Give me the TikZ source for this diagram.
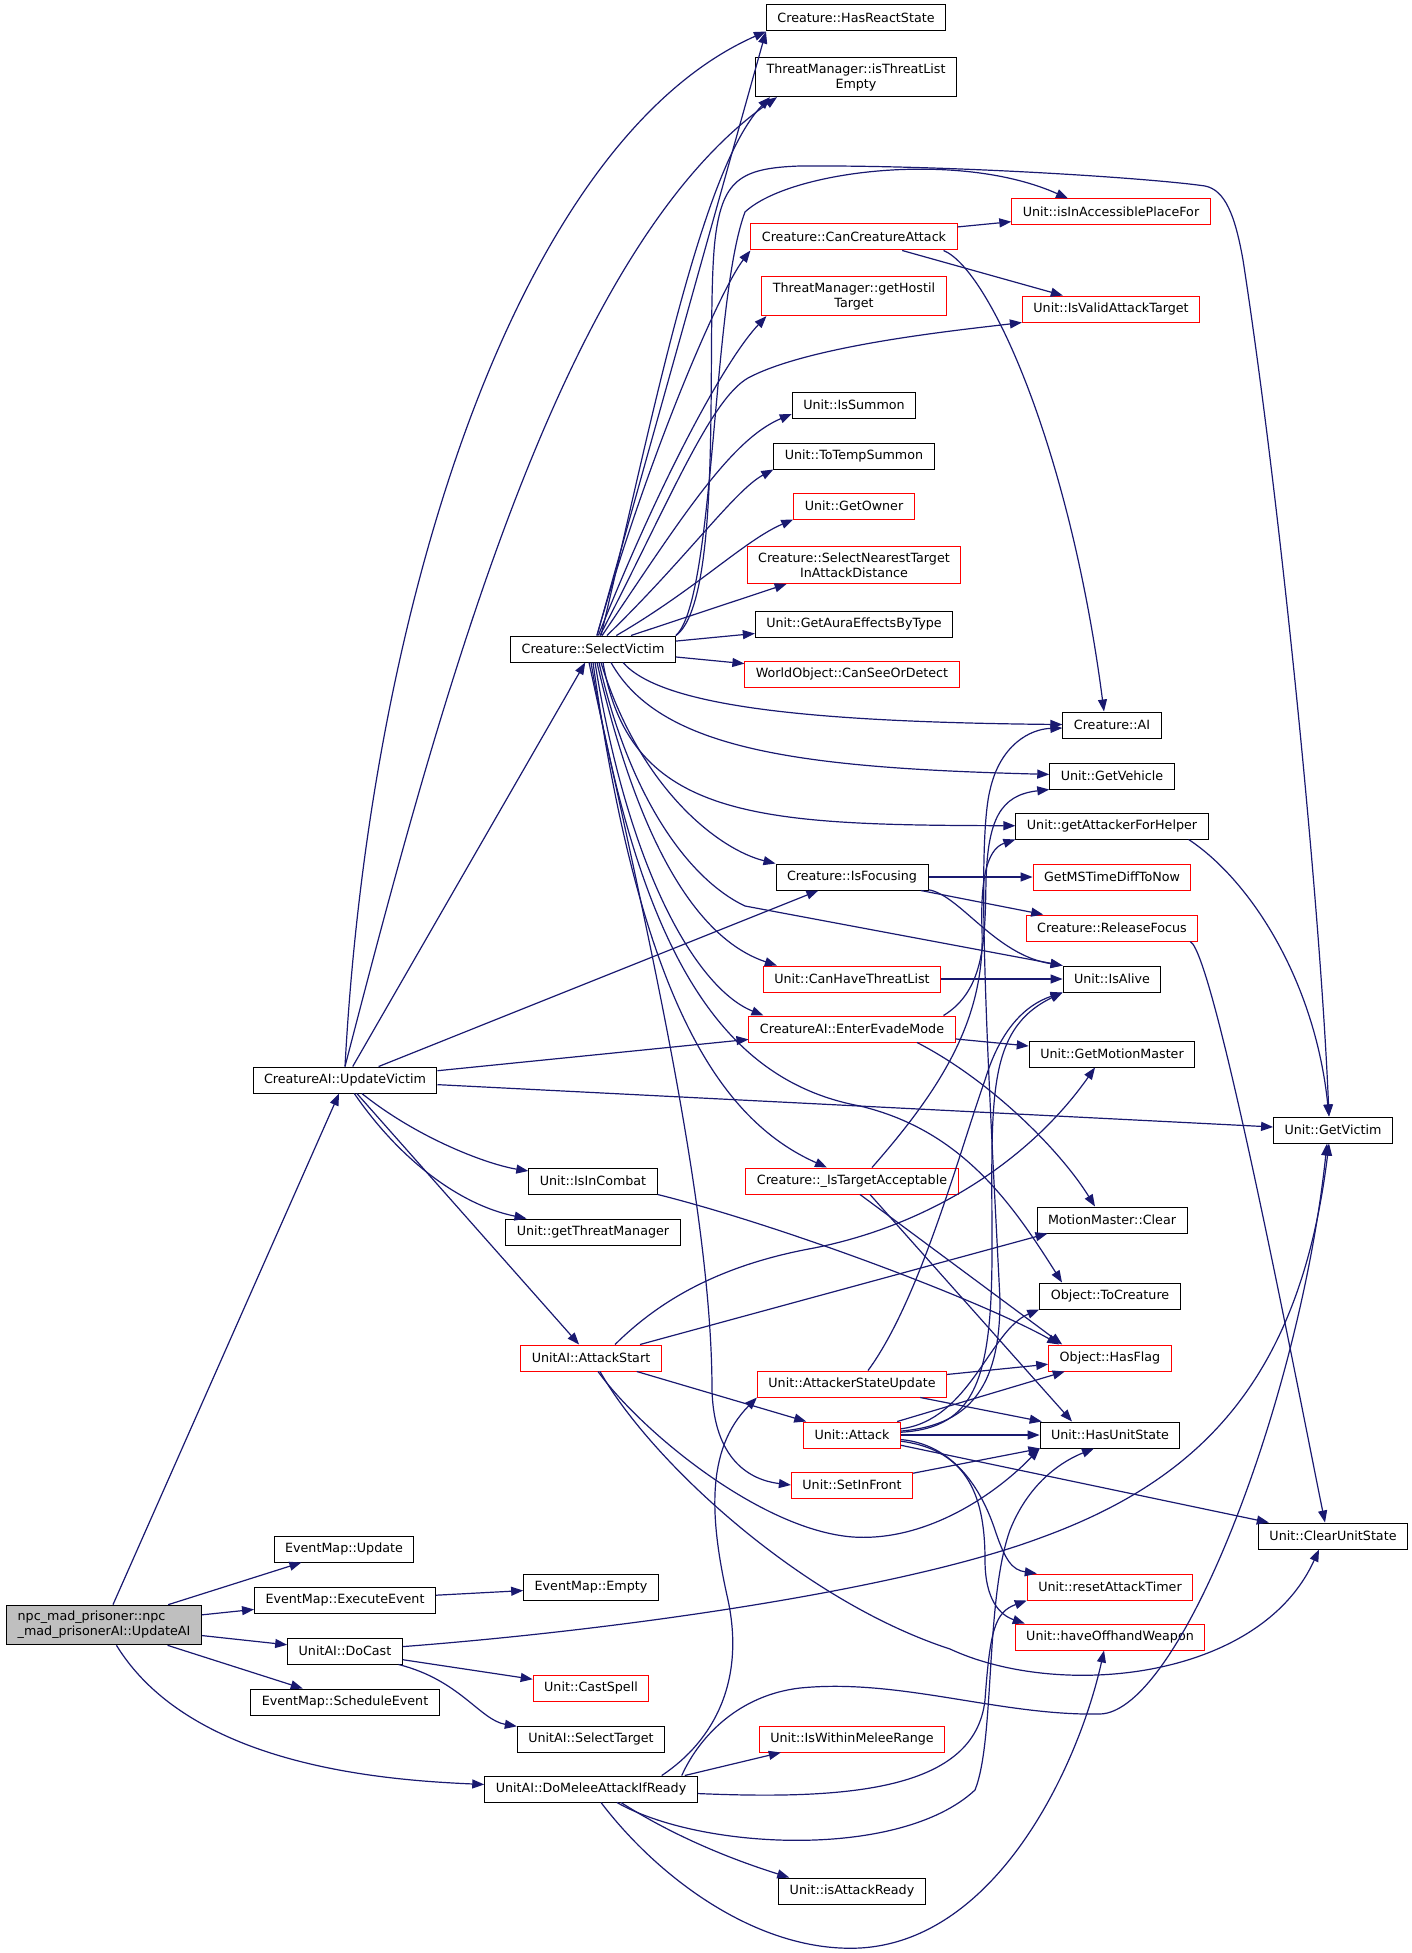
\documentclass[tikz,border=0pt]{standalone}
\usepackage{fontspec}
\setmainfont{DejaVu Sans}
\usepackage{xcolor}
\usetikzlibrary{arrows.meta}
\definecolor{azulnoite}{HTML}{191970}
\definecolor{cinzaraiz}{HTML}{BFBFBF}
\begin{document}
\begin{tikzpicture}[
    x=1pt, y=-1pt,
    every node/.style={draw, rectangle, inner xsep=11pt, inner ysep=6pt, minimum height=26pt,
      align=center, line width=1pt, font=\fontsize{12.7}{15}\selectfont},
    chamada/.style={draw=azulnoite, line width=1.2pt, -{Triangle[length=12pt,width=9pt]}}
  ]
  \tikzset{
    caixa/.style={draw=black},
    vermelha/.style={draw=red},
    raiz/.style={draw=black, fill=cinzaraiz, align=left}
  }
  \useasboundingbox (0,0) rectangle (1411,1953);

  \node[raiz] (raiz) at (104,1625) {npc\_mad\_prisoner::npc\\\_mad\_prisonerAI::UpdateAI};

  \node[caixa] (uv) at (345,1080) {CreatureAI::UpdateVictim};
  \node[caixa] (emu) at (344,1549) {EventMap::Update};
  \node[caixa] (eme) at (345,1600) {EventMap::ExecuteEvent};
  \node[caixa] (dc) at (345,1651) {UnitAI::DoCast};
  \node[caixa] (ems) at (345,1702) {EventMap::ScheduleEvent};

  \node[caixa] (sv) at (593,649) {Creature::SelectVictim};
  \node[caixa] (ic) at (593,1181) {Unit::IsInCombat};
  \node[caixa] (gtm) at (593,1232) {Unit::getThreatManager};
  \node[vermelha] (as) at (591,1358) {UnitAI::AttackStart};
  \node[caixa] (emempty) at (591,1587) {EventMap::Empty};
  \node[vermelha] (cs) at (591,1688) {Unit::CastSpell};
  \node[caixa] (st) at (591,1739) {UnitAI::SelectTarget};
  \node[caixa] (dm) at (591,1789) {UnitAI::DoMeleeAttackIfReady};

  \node[caixa] (hrs) at (856,18) {Creature::HasReactState};
  \node[caixa] (itle) at (856,77) {ThreatManager::isThreatList\\Empty};
  \node[vermelha] (cca) at (854,237) {Creature::CanCreatureAttack};
  \node[vermelha] (ght) at (854,296) {ThreatManager::getHostil\\Target};
  \node[caixa] (isum) at (854,405) {Unit::IsSummon};
  \node[caixa] (tts) at (854,456) {Unit::ToTempSummon};
  \node[vermelha] (go) at (854,506) {Unit::GetOwner};
  \node[vermelha] (snt) at (854,565) {Creature::SelectNearestTarget\\InAttackDistance};
  \node[caixa] (gae) at (854,624) {Unit::GetAuraEffectsByType};
  \node[vermelha] (csd) at (852,674) {WorldObject::CanSeeOrDetect};
  \node[caixa] (isf) at (852,877) {Creature::IsFocusing};
  \node[vermelha] (chtl) at (852,979) {Unit::CanHaveThreatList};
  \node[vermelha] (eem) at (852,1029) {CreatureAI::EnterEvadeMode};
  \node[vermelha] (ita) at (852,1181) {Creature::\_IsTargetAcceptable};
  \node[vermelha] (asu) at (852,1384) {Unit::AttackerStateUpdate};
  \node[vermelha] (att) at (852,1435) {Unit::Attack};
  \node[vermelha] (sif) at (852,1485) {Unit::SetInFront};
  \node[vermelha] (iwmr) at (852,1739) {Unit::IsWithinMeleeRange};
  \node[caixa] (iar) at (852,1891) {Unit::isAttackReady};

  \node[vermelha] (iap) at (1111,212) {Unit::isInAccessiblePlaceFor};
  \node[vermelha] (ivat) at (1111,309) {Unit::IsValidAttackTarget};
  \node[caixa] (cai) at (1112,725) {Creature::AI};
  \node[caixa] (gveh) at (1112,776) {Unit::GetVehicle};
  \node[caixa] (gafh) at (1112,826) {Unit::getAttackerForHelper};
  \node[vermelha] (gms) at (1112,877) {GetMSTimeDiffToNow};
  \node[vermelha] (rf) at (1112,928) {Creature::ReleaseFocus};
  \node[caixa] (ia) at (1112,979) {Unit::IsAlive};
  \node[caixa] (gmm) at (1112,1054) {Unit::GetMotionMaster};
  \node[caixa] (mmc) at (1112,1220) {MotionMaster::Clear};
  \node[caixa] (tc) at (1110,1296) {Object::ToCreature};
  \node[vermelha] (hf) at (1110,1358) {Object::HasFlag};
  \node[caixa] (hus) at (1110,1435) {Unit::HasUnitState};
  \node[vermelha] (rat) at (1110,1587) {Unit::resetAttackTimer};
  \node[vermelha] (how) at (1110,1637) {Unit::haveOffhandWeapon};

  \node[caixa] (gv) at (1333,1130) {Unit::GetVictim};
  \node[caixa] (cus) at (1333,1536) {Unit::ClearUnitState};

  \draw[chamada] (raiz) -- (uv);
  \draw[chamada] (raiz) -- (emu);
  \draw[chamada] (raiz) -- (eme);
  \draw[chamada] (raiz) -- (dc);
  \draw[chamada] (raiz) -- (ems);
  \draw[chamada] (raiz) .. controls (190,1765) and (380,1780) .. (dm);

  \draw[chamada] (uv.north) .. controls (370,600) and (520,140) .. (hrs.south west);
  \draw[chamada] (uv.north) .. controls (440,700) and (560,250) .. ([xshift=22pt]itle.south west);
  \draw[chamada] (uv) -- (sv);
  \draw[chamada] (uv) -- (isf);
  \draw[chamada] (uv) -- (eem);
  \draw[chamada] (uv) -- (gv);
  \draw[chamada] (uv) .. controls (420,1140) and (490,1165) .. (ic);
  \draw[chamada] (uv) .. controls (400,1160) and (460,1205) .. (gtm);
  \draw[chamada] (uv) -- (as);

  \draw[chamada] (dc) -- (cs);
  \draw[chamada] (dc) .. controls (460,1680) and (480,1720) .. (st);
  \draw[chamada] (dc) .. controls (620,1630) and (900,1590) .. (1040,1538) .. controls (1200,1480) and (1300,1380) .. ([xshift=-4pt]gv.south);

  \draw[chamada] (eme) -- (emempty);

  \draw[chamada] ([xshift=-36pt]dm.north east) .. controls (715,1740) and (745,1680) .. (728,1600) .. controls (710,1520) and (705,1450) .. (asu.south west);
  \draw[chamada] ([xshift=-13pt]dm.north east) -- ([xshift=22pt]iwmr.south west);
  \draw[chamada] ([xshift=-16pt]dm.north east) .. controls (700,1735) and (740,1695) .. (800,1688) .. controls (900,1678) and (1000,1716) .. (1100,1714) .. controls (1180,1712) and (1300,1400) .. ([xshift=-6pt]gv.south);
  \draw[chamada] (dm) .. controls (850,1800) and (975,1790) .. (985,1700) .. controls (990,1630) and (995,1612) .. (rat.south west);
  \draw[chamada] ([xshift=26pt]dm.south) .. controls (700,1850) and (900,1860) .. (975,1790) .. controls (995,1740) and (985,1600) .. (1010,1530) .. controls (1030,1480) and (1065,1460) .. ([xshift=-16pt]hus.south);
  \draw[chamada] ([xshift=30pt]dm.south) .. controls (680,1840) and (740,1862) .. ([xshift=11pt]iar.north west);
  \draw[chamada] ([xshift=10pt]dm.south) .. controls (660,1880) and (760,1953) .. (860,1948) .. controls (1000,1940) and (1080,1760) .. ([xshift=-6pt]how.south);

  \draw[chamada] (as) -- (att);
  \draw[chamada] ([xshift=24pt]as.north) .. controls (660,1300) and (720,1265) .. (814,1248) .. controls (930,1225) and (1030,1160) .. ([xshift=-17pt]gmm.south);
  \draw[chamada] ([xshift=49pt]as.north) -- ([xshift=11pt]mmc.south west);
  \draw[chamada] ([xshift=7pt]as.south) .. controls (640,1430) and (760,1530) .. (853,1537) .. controls (930,1542) and (1000,1490) .. (hus.south west);
  \draw[chamada] ([xshift=9pt]as.south) .. controls (650,1460) and (800,1600) .. (950,1649) .. controls (1060,1700) and (1260,1680) .. ([xshift=-14pt]cus.south);

  \draw[chamada] (att) -- (hus);
  \draw[chamada] (att) -- (hf);
  \draw[chamada] (att) .. controls (970,1420) and (990,1330) .. (tc.south west);
  \draw[chamada] (att) -- (cus);
  \draw[chamada] (att) .. controls (960,1445) and (985,1500) .. (995,1530) .. controls (1005,1560) and (1012,1570) .. ([xshift=10pt]rat.north west);
  \draw[chamada] (att) .. controls (970,1450) and (985,1500) .. (985,1560) .. controls (985,1600) and (1000,1615) .. ([xshift=10pt]how.north west);
  \draw[chamada] (att) .. controls (975,1425) and (1000,1380) .. (1000,1300) .. controls (990,1100) and (975,850) .. (990,790) .. controls (1000,745) and (1030,729) .. ([yshift=-3pt]cai.west);
  \draw[chamada] (att) .. controls (975,1428) and (992,1380) .. (992,1250) .. controls (992,1100) and (985,1030) .. (ia.south west);

  \draw[chamada] (asu) -- (hf);
  \draw[chamada] (asu) -- (hus);
  \draw[chamada] ([xshift=16pt]asu.north) .. controls (920,1300) and (960,1150) .. (985,1080) .. controls (1000,1030) and (1025,1005) .. (ia.south west);

  \draw[chamada] ([xshift=20pt]ita.north) .. controls (940,1090) and (985,1020) .. (982,930) .. controls (980,870) and (990,848) .. (gafh.south west);
  \draw[chamada] ([xshift=8pt]ita.south) -- ([xshift=14pt]hf.north west);
  \draw[chamada] ([xshift=18pt]ita.south) -- ([xshift=-38pt]hus.north);

  \draw[chamada] (ic.south east) .. controls (780,1225) and (980,1300) .. ([xshift=11pt]hf.north west);

  \draw[chamada] ([xshift=-12pt]eem.north east) .. controls (985,990) and (985,940) .. (986,880) .. controls (988,820) and (1000,795) .. (gveh.south west);
  \draw[chamada] (eem) -- (gmm);
  \draw[chamada] ([xshift=65pt]eem.south) .. controls (990,1080) and (1060,1150) .. ([xshift=-17pt]mmc.north);

  \draw[chamada] (isf) -- (gms);
  \draw[chamada] (isf) -- (rf);
  \draw[chamada] (isf) .. controls (960,895) and (995,955) .. (ia.north west);

  \draw[chamada] (chtl) -- (ia);

  \draw[chamada] ([xshift=-20pt]gafh.south east) .. controls (1250,880) and (1315,980) .. ([xshift=-4pt]gv.north);

  \draw[chamada] ([xshift=-8pt]rf.south east) .. controls (1215,955) and (1300,1400) .. ([xshift=-8pt]cus.north);

  \draw[chamada] (cca) -- (iap);
  \draw[chamada] (cca) -- (ivat);
  \draw[chamada] ([xshift=-14pt]cca.south east) .. controls (990,270) and (1070,450) .. ([xshift=-8pt]cai.north);

  \draw[chamada] (sif) -- (hus);

  \draw[chamada] ([xshift=4pt]sv.north) -- (hrs.south west);
  \draw[chamada] ([xshift=8pt]sv.north) .. controls (650,430) and (700,170) .. ([xshift=15pt]itle.south west);
  \draw[chamada] (sv.north east) .. controls (715,600) and (712,300) .. (745,212) .. controls (790,170) and (960,150) .. ([xshift=-43pt]iap.north);
  \draw[chamada] (sv.north east) .. controls (725,600) and (705,330) .. (715,240) .. controls (722,180) and (740,168) .. (800,166) .. controls (950,165) and (1150,178) .. (1205,186) .. controls (1225,190) and (1235,215) .. (1243,260) .. controls (1280,500) and (1320,900) .. ([xshift=-4pt]gv.north);
  \draw[chamada] (sv) .. controls (650,450) and (720,290) .. (cca.south west);
  \draw[chamada] (sv) .. controls (660,480) and (725,360) .. ([xshift=5pt]ght.south west);
  \draw[chamada] (sv) .. controls (670,500) and (710,400) .. (748,378) .. controls (810,345) and (960,330) .. (ivat.south west);
  \draw[chamada] (sv) .. controls (680,520) and (730,440) .. ([yshift=-9pt]isum.west);
  \draw[chamada] (sv) .. controls (685,560) and (735,490) .. (tts.south west);
  \draw[chamada] (sv) .. controls (695,590) and (745,540) .. (go.south west);
  \draw[chamada] ([xshift=38pt]sv.north) -- ([xshift=40pt]snt.south west);
  \draw[chamada] (sv) -- (gae);
  \draw[chamada] (sv) -- (csd);
  \draw[chamada] ([xshift=30pt]sv.south) .. controls (660,705) and (800,722) .. (cai);
  \draw[chamada] ([xshift=18pt]sv.south) .. controls (660,750) and (800,768) .. (gveh);
  \draw[chamada] ([xshift=10pt]sv.south) .. controls (630,820) and (760,825) .. (gafh);
  \draw[chamada] ([xshift=8pt]sv.south) .. controls (640,790) and (720,850) .. (isf.north west);
  \draw[chamada] ([xshift=6pt]sv.south) .. controls (630,800) and (690,880) .. (745,906) -- (ia.north west);
  \draw[chamada] ([xshift=4pt]sv.south) .. controls (640,850) and (700,940) .. ([xshift=14pt]chtl.north west);
  \draw[chamada] ([xshift=2pt]sv.south) .. controls (630,880) and (700,990) .. ([xshift=15pt]eem.north west);
  \draw[chamada] (sv.south) .. controls (640,1000) and (720,1120) .. ([xshift=-25pt]ita.north);
  \draw[chamada] ([xshift=-2pt]sv.south) .. controls (640,950) and (720,1080) .. (860,1106) .. controls (960,1130) and (1010,1200) .. ([xshift=-48pt]tc.north);
  \draw[chamada] ([xshift=-4pt]sv.south) .. controls (640,900) and (712,1200) .. (712,1390) .. controls (714,1460) and (750,1480) .. (sif.west);
\end{tikzpicture}
\end{document}
